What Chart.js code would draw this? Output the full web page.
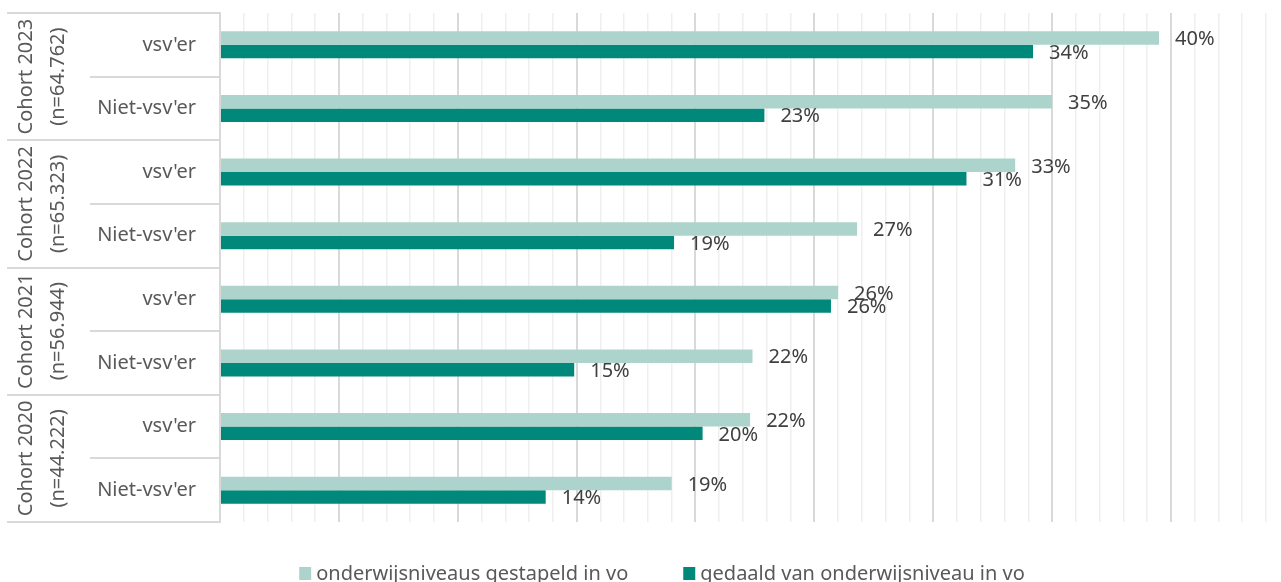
<!DOCTYPE html>
<html>
<head>
<meta charset="utf-8">
<script src="https://cdn.jsdelivr.net/npm/chart.js@4"></script>
<style>
    body { margin: 0; background: #ffffff; overflow: hidden; }
    #wrap { width: 1281px; height: 582px; position: relative; }
</style>
</head>
<body>
<div id="wrap"><canvas id="myChart"></canvas></div>
<script>

const categories = ["vsv'er", "Niet-vsv'er", "vsv'er", "Niet-vsv'er", "vsv'er", "Niet-vsv'er", "vsv'er", "Niet-vsv'er"];
const cohorts = ["Cohort 2023", "Cohort 2022", "Cohort 2021", "Cohort 2020"];
const cohortSizes = ["(n=64.762)", "(n=65.323)", "(n=56.944)", "(n=44.222)"];

const stapelen = [39.5, 35.0, 33.45, 26.8, 26.0, 22.4, 22.3, 19.0];
const gedaald = [34.2, 22.9, 31.4, 19.1, 25.7, 14.9, 20.3, 13.7];

const seriesNames = ["onderwijsniveaus gestapeld in vo", "gedaald van onderwijsniveau in vo"];
const seriesColors = ['#acd4cc', '#00887a'];

const FONT = '"Noto Sans", sans-serif';


// labels at the end of each bar
const valueLabels = {
    id: 'valueLabels',
    afterDatasetsDraw(chart) {
        const ctx = chart.ctx;
        ctx.save();
        ctx.font = '20px ' + FONT;
        ctx.fillStyle = '#404040';
        ctx.textAlign = 'left';
        ctx.textBaseline = 'middle';
        chart.data.datasets.forEach((ds, i) => {
            chart.getDatasetMeta(i).data.forEach((bar, j) => {
                ctx.fillText(Math.round(ds.data[j]) + '%', bar.x + 16, bar.y + 1.5);
            });
        });
        ctx.restore();
    }
};


// multi-level category axis on the left
const cohortAxis = {
    id: 'cohortAxis',
    afterDraw(chart) {
        const ctx = chart.ctx;
        const y = chart.scales.y;
        const area = chart.chartArea;
        const n = categories.length;

        const rowPix = [];
        for (let i = 0; i < n; i++) rowPix.push(y.getPixelForValue(i));
        const bound = (k) => {
            if (k <= 0) return area.top;
            if (k >= n) return area.bottom;
            return (rowPix[k - 1] + rowPix[k]) / 2;
        };

        ctx.save();
        ctx.strokeStyle = '#d9d9d9';
        ctx.lineWidth = 2;
        for (let k = 0; k <= n; k++) {
            const yy = Math.round(bound(k));
            const x0 = (k % 2 === 0) ? 7 : 90;
            ctx.beginPath();
            ctx.moveTo(x0, yy);
            ctx.lineTo(area.left, yy);
            ctx.stroke();
        }

        ctx.font = '20px ' + FONT;
        ctx.fillStyle = '#595959';
        ctx.textAlign = 'center';
        ctx.textBaseline = 'middle';
        cohorts.forEach((c, g) => {
            const cy = (rowPix[g * 2] + rowPix[g * 2 + 1]) / 2;
            ctx.save();
            ctx.translate(25, cy);
            ctx.rotate(-Math.PI / 2);
            ctx.fillText(c, 0, 1);
            ctx.restore();
            ctx.save();
            ctx.translate(57, cy);
            ctx.rotate(-Math.PI / 2);
            ctx.fillText(cohortSizes[g], 0, 1);
            ctx.restore();
        });
        ctx.restore();
    }
};


// legend below the plot
const bottomLegend = {
    id: 'bottomLegend',
    afterDraw(chart) {
        const ctx = chart.ctx;
        ctx.save();
        ctx.font = '20px ' + FONT;
        ctx.textBaseline = 'middle';
        ctx.textAlign = 'left';
        const gap = 55;
        const widths = seriesNames.map(t => 17 + ctx.measureText(t).width);
        const total = widths.reduce((a, b) => a + b, 0) + gap * (widths.length - 1);
        let x = 662 - total / 2;
        const yMid = 574;
        seriesNames.forEach((t, i) => {
            ctx.fillStyle = seriesColors[i];
            ctx.fillRect(x, 567, 12, 13);
            ctx.fillStyle = '#595959';
            ctx.fillText(t, x + 17, yMid);
            x += widths[i] + gap;
        });
        ctx.restore();
    }
};


function createBarChart() {
    const data = {
        labels: categories,
        datasets: [
            {
                label: seriesNames[0],
                data: stapelen,
                backgroundColor: seriesColors[0],
            },
            {
                label: seriesNames[1],
                data: gedaald,
                backgroundColor: seriesColors[1],
            }
        ],
    };

    const config = {
        type: 'bar',
        data: data,
        options: {
            indexAxis: 'y',
            responsive: true,
            maintainAspectRatio: false,
            animation: false,
            categoryPercentage: 0.425,
            barPercentage: 1,
            layout: {
                padding: { top: 13, right: 15, bottom: 60, left: 0 }
            },
            plugins: {
                legend: { display: false },
                tooltip: { enabled: false },
            },
            scales: {
                x: {
                    min: 0,
                    max: 44,
                    ticks: { display: false, stepSize: 1 },
                    border: { display: false },
                    grid: {
                        drawTicks: false,
                        color: (c) => (c.tick && c.tick.value % 5 === 0) ? '#d9d9d9' : '#efefef',
                        lineWidth: (c) => (c.tick && c.tick.value % 5 === 0) ? 2 : 1.5,
                    },
                    afterFit: (scale) => { scale.height = 0; }
                },
                y: {
                    ticks: {
                        padding: 0,
                        color: '#595959',
                        font: { family: FONT, size: 20 }
                    },
                    grid: {
                        drawOnChartArea: false,
                        drawTicks: true,
                        tickLength: 24,
                        tickColor: 'rgba(0,0,0,0)',
                        color: 'rgba(0,0,0,0)'
                    },
                    border: { color: '#d9d9d9', width: 2 },
                    afterFit: (scale) => { scale.width = 220; }
                }
            }
        },
        plugins: [valueLabels, cohortAxis, bottomLegend]
    };

    const ctx = document.getElementById('myChart').getContext('2d');
    new Chart(ctx, config);
}

document.addEventListener('DOMContentLoaded', createBarChart);
</script>
</body>
</html>
